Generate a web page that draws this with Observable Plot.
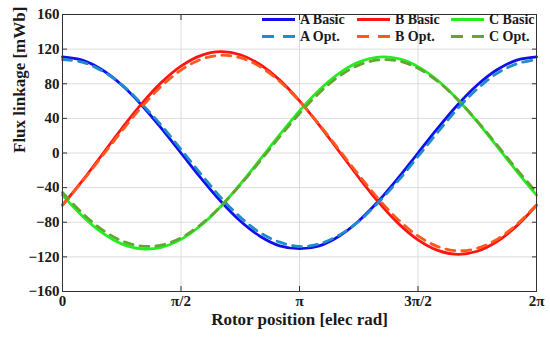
<!DOCTYPE html>
<html><head><meta charset="utf-8">
<script src="https://cdn.jsdelivr.net/npm/d3@7"></script>
<script src="https://cdn.jsdelivr.net/npm/@observablehq/plot@0.6"></script>
<style>
body{margin:0;background:#fff}
#chart{width:550px;height:338px}
#chart svg, #chart svg text{font-family:"Liberation Serif","Tinos","DejaVu Serif",serif !important;font-weight:bold}
</style>
</head><body><div id="chart"></div>
<script>
// Rotor position samples (degrees electrical)
const angleDeg = [0,15,30,45,60,75,90,105,120,135,150,165,180,195,210,225,240,255,270,285,300,315,330,345,360];
// Flux linkage values [mWb]
const aBasic = [111,107.2,96.1,78.5,55.5,28.7,0,-28.7,-55.5,-78.5,-96.1,-107.2,-110.5,-107.2,-96.1,-78.5,-55.5,-28.7,0,28.7,55.5,78.5,96.1,107.2,111];
const aOpt   = [108,105,95,79,57,32,4,-24,-51,-74,-92,-103,-108,-105,-95,-79,-57,-32,-4,24,51,74,92,103,108];
const bBasic = [-60.3,-32.3,-2,28.3,56.7,81.3,100.3,112.5,117,113.5,102.3,84.2,60.3,32.3,2,-28.3,-56.7,-81.3,-100.3,-112.5,-117,-113.5,-102.3,-84.2,-60.3];
const bOpt   = [-59.9,-33,-3.9,25.4,53,77.1,95.8,108.1,112.9,110.1,99.8,82.6,59.9,33,3.9,-25.4,-53,-77.1,-95.8,-108.1,-112.9,-110.1,-99.8,-82.6,-59.9];
const cBasic = [-48.7,-72.8,-92,-105,-110.7,-109,-99.8,-83.8,-62.1,-36.1,-7.7,21.2,48.7,72.8,92,105,110.7,109,99.8,83.8,62.1,36.1,7.7,-21.2,-48.7];
const cOpt   = [-45.6,-69.4,-88.5,-101.5,-107.6,-106.4,-97.9,-82.7,-61.9,-36.9,-9.4,18.8,45.6,69.4,88.5,101.5,107.6,106.4,97.9,82.7,61.9,36.9,9.4,-18.8,-45.6];

const seriesNames = ["A Basic","B Basic","C Basic","A Opt.","B Opt.","C Opt."];
const seriesValues = [aBasic,bBasic,cBasic,aOpt,bOpt,cOpt];
const seriesColors = ["#1010ee","#ff1414","#22ee22","#1f8ccc","#ff5a1e","#62a830"];
const seriesDashed = [false,false,false,true,true,true];

const xTickVals = [0,90,180,270,360];
const xTickLabels = ["0","π/2","π","3π/2","2π"];
const yTickVals = [-160,-120,-80,-40,0,40,80,120,160];
const xLabel = "Rotor position [elec rad]";
const yLabel = "Flux linkage [mWb]";

const font = '"Liberation Serif","Tinos","DejaVu Serif",serif';
const ink = "#1a1a1a";

const rows = seriesNames.map((name, s) => angleDeg.map((d, i) => ({series: name, deg: d, v: seriesValues[s][i]})));

const lineMarks = rows.map((data, s) => Plot.line(data, {
  x: "deg", y: "v", stroke: seriesColors[s], strokeWidth: 2.8,
  strokeDasharray: seriesDashed[s] ? "9,7" : null, curve: "catmull-rom"
}));

const chart = Plot.plot({
  width: 550, height: 338,
  marginLeft: 62, marginRight: 14, marginTop: 14, marginBottom: 47,
  style: {fontFamily: font, fontWeight: "bold", color: ink, background: "#fff", overflow: "visible"},
  x: {domain: [0, 360]},
  y: {domain: [-160, 160]},
  marks: [
    Plot.gridX(xTickVals, {stroke: "#dcdcdc", strokeOpacity: 1}),
    Plot.gridY(yTickVals, {stroke: "#dcdcdc", strokeOpacity: 1}),
    ...lineMarks,
    Plot.frame({stroke: "#333", strokeWidth: 1}),
    Plot.axisX(xTickVals, {anchor: "bottom", tickSize: 0, tickPadding: 4, tickFormat: d => xTickLabels[xTickVals.indexOf(d)], fontSize: 15, fontWeight: "bold", label: null}),
    Plot.axisX(xTickVals, {anchor: "bottom", tickSize: -5, fill: "none", label: null, stroke: "#333"}),
    Plot.axisX(xTickVals, {anchor: "top", tickSize: -5, fill: "none", label: null, stroke: "#333"}),
    Plot.axisY(yTickVals, {anchor: "left", tickSize: 0, tickPadding: 3, tickFormat: d => d < 0 ? "−" + Math.abs(d) : String(d), fontSize: 15, fontWeight: "bold", label: null}),
    Plot.axisY(yTickVals, {anchor: "left", tickSize: -5, fill: "none", label: null, stroke: "#333"}),
    Plot.axisY(yTickVals, {anchor: "right", tickSize: -5, fill: "none", label: null, stroke: "#333"}),
    Plot.text([xLabel], {frameAnchor: "bottom", dy: 33, fontSize: 17, fontWeight: "bold", fill: ink}),
    Plot.text([yLabel], {frameAnchor: "left", dx: -43, rotate: -90, fontSize: 17, fontWeight: "bold", fill: ink})
  ]
});

// Legend inside the top-right of the plot area (two rows, three columns)
const svg = d3.select(chart);
const lg = svg.append("g").attr("font-family", font).attr("font-weight", "bold")
  .attr("font-size", 14).attr("fill", ink).attr("text-anchor", "start");
const colX = [262, 357, 451];
const rowY = [19.5, 36.5];
seriesNames.forEach((name, s) => {
  const cx = colX[s % 3], cy = rowY[Math.floor(s / 3)];
  lg.append("line").attr("x1", cx).attr("x2", cx + 33).attr("y1", cy).attr("y2", cy)
    .attr("stroke", seriesColors[s]).attr("stroke-width", 2.8)
    .attr("stroke-dasharray", seriesDashed[s] ? "12,9" : null);
  lg.append("text").attr("x", cx + 38).attr("y", cy).attr("dy", "0.35em").attr("text-anchor", "start").text(name);
});

document.getElementById("chart").appendChild(chart);
</script>
</body></html>
